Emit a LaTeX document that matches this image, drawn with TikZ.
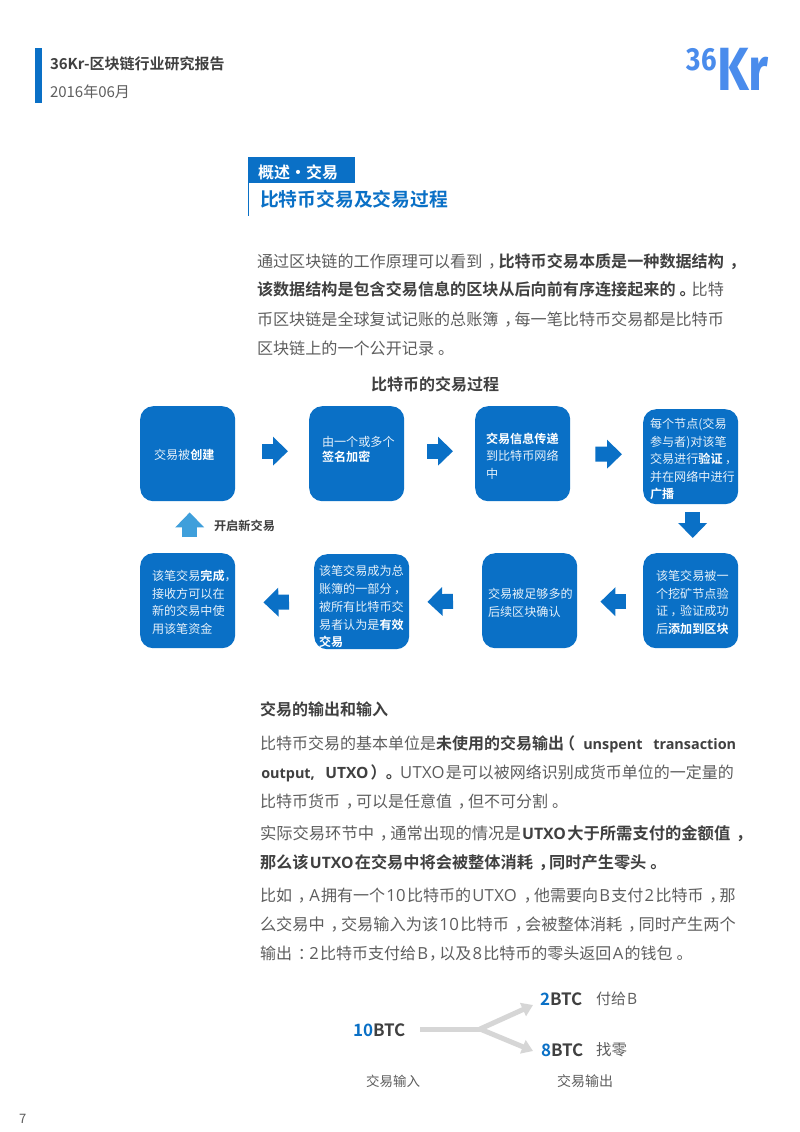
\documentclass[tikz,border=0pt]{standalone}
\usepackage{fontspec}
\usetikzlibrary{arrows.meta}
\setmainfont{Noto Sans CJK SC}[BoldFont={Noto Sans CJK SC Bold}]
\newfontfamily\logofont{Fira Sans}
\newfontfamily\latfont{Open Sans}[Scale=1.04,LetterSpace=2]
\newfontfamily\latbold{Open Sans}[Scale=0.97]
\newfontfamily\latsmall{Open Sans}[Scale=0.9]
\definecolor{kblue}{HTML}{0A70C6}
\definecolor{ktext}{HTML}{5E5E5E}
\definecolor{kdark}{HTML}{404040}
\definecolor{kboxtext}{HTML}{E6F1FA}
\definecolor{klight}{HTML}{3F9FDB}
\definecolor{kgray}{HTML}{D6D6D6}
\definecolor{klogo}{HTML}{4A8CEC}
\newcommand{\fs}[1]{\fontsize{#1bp}{#1bp}\selectfont}
% full-width punctuation set centred in its em box, as the reference prints it
\newcommand{\zc}{\kern.36em，\kern-.36em}
\newcommand{\zs}{\kern.2em，\kern-.2em}
\newcommand{\zd}{\kern.25em。\kern-.25em}
\newcommand{\zl}{\kern-.3em（\kern.3em}
\newcommand{\zr}{\kern.3em）\kern-.3em}
\newcommand{\zk}{\kern.36em：\kern-.36em}
\newcommand{\lt}[1]{\kern.08em{\latfont #1}\kern.08em}
\newcommand{\lb}[1]{\kern.08em{\latbold\bfseries #1}\kern.08em}
\newcommand{\ls}[1]{\kern.08em{\latsmall\bfseries #1}\kern.08em}
\newcommand{\bk}[1]{\textbf{\color{kdark}#1}}
\newcommand{\bw}[1]{\textbf{\color{white}#1}}
\tikzset{
 x=1bp,y=-1bp,
 txt/.style={anchor=base west,inner sep=0pt,outer sep=0pt,text=ktext,font=\fs{16},yshift=-0.8bp},
 boxlab/.style={anchor=base west,inner sep=0pt,outer sep=0pt,text=kboxtext,font=\fs{12.1},yshift=-0.6bp},
 stepbox/.style={fill=kblue,draw=none,rounded corners=13bp,minimum width=95bp,minimum height=95bp,inner sep=0pt,anchor=north west},
 blockarr/.style={draw=kblue,line width=15bp,-{Triangle[length=15bp,width=28bp]}},
 forkarr/.style={draw=kgray,line width=5bp},
}
\begin{document}
\begin{tikzpicture}
\useasboundingbox (0,0) rectangle (800,1132);
\fill[white] (0,0) rectangle (800,1132);
% header
\fill[kblue] (35,48) rectangle (42,103);
\node[txt,font=\fs{15}\bfseries,text=kdark] (h1) at (50,68.5) {36Kr-区块链行业研究报告};
\node[txt,font=\fs{15}] (h2) at (50,97) {2016年06月};
\node[anchor=base west,inner sep=0pt,text=klogo,font=\logofont\bfseries\fs{32}] (logo36) at (686.5,70) {\scalebox{0.86}[1]{36}};
\node[anchor=base west,inner sep=0pt,text=klogo,font=\logofont\bfseries\fs{61}] (logokr) at (717,90) {\scalebox{0.82}[1]{Kr}};
% section
\fill[kblue] (248,157) rectangle (355,183);
\draw[kblue,line width=1.2bp] (248.5,183) -- (248.5,216);
\node[txt,font=\fs{16}\bfseries,text=white] (sec) at (258,178) {概述・交易};
\node[txt,font=\fs{18.8}\bfseries,text=kblue] (title) at (260,205.5) {比特币交易及交易过程};
% body 1
\node[txt,font=\fs{16.1}] (b1) at (257,266.5) {通过区块链的工作原理可以看到\zc\bk{比特币交易本质是一种数据结构\zc}};
\node[txt,font=\fs{16.1}] (b2) at (257,295) {\bk{该数据结构是包含交易信息的区块从后向前有序连接起来的\zd}比特};
\node[txt,font=\fs{16.1}] (b3) at (257,324.5) {币区块链是全球复试记账的总账簿\zc 每一笔比特币交易都是比特币};
\node[txt,font=\fs{16.1}] (b4) at (257,353.5) {区块链上的一个公开记录\zd};
\node[txt,font=\fs{16}\bfseries,text=kdark] (ct) at (371,389.5) {比特币的交易过程};
% boxes
\node[stepbox] (box1) at (140,406) {};
\node[stepbox] (box2) at (309,406) {};
\node[stepbox] (box3) at (475,406) {};
\node[stepbox] (box4) at (643,409) {};
\node[stepbox] (box5) at (643,553) {};
\node[stepbox] (box6) at (482,553) {};
\node[stepbox] (box7) at (314,554) {};
\node[stepbox] (box8) at (140,553) {};
% box texts
\node[boxlab] (t1) at (154,459) {交易被\bw{创建}};
\node[boxlab] (t2a) at (322,446) {由一个或多个};
\node[boxlab] (t2b) at (322,461) {\bw{签名加密}};
\node[boxlab] (t3a) at (486,443) {\bw{交易信息传递}};
\node[boxlab] (t3b) at (486,460) {到比特币网络};
\node[boxlab] (t3c) at (486,478) {中};
\node[boxlab] (t4a) at (650,428) {每个节点(交易};
\node[boxlab] (t4b) at (650,446) {参与者)对该笔};
\node[boxlab] (t4c) at (650,463) {交易进行\bw{验证}\zs};
\node[boxlab] (t4d) at (650,481) {并在网络中进行};
\node[boxlab] (t4e) at (650,498) {\bw{广播}};
\node[boxlab] (t5a) at (656,580) {该笔交易被一};
\node[boxlab] (t5b) at (656,598) {个挖矿节点验};
\node[boxlab] (t5c) at (656,615) {证\zs 验证成功};
\node[boxlab] (t5d) at (656,633) {后\bw{添加到区块}};
\node[boxlab] (t6a) at (488,598) {交易被足够多的};
\node[boxlab] (t6b) at (488,616) {后续区块确认};
\node[boxlab] (t7a) at (319,575) {该笔交易成为总};
\node[boxlab] (t7b) at (319,593) {账簿的一部分\zs};
\node[boxlab] (t7c) at (319,611) {被所有比特币交};
\node[boxlab] (t7d) at (319,629) {易者认为是\bw{有效}};
\node[boxlab] (t7e) at (319,646) {\bw{交易}};
\node[boxlab] (t8a) at (152,580) {该笔交易\bw{完成}，};
\node[boxlab] (t8b) at (152,598) {接收方可以在};
\node[boxlab] (t8c) at (152,615) {新的交易中使};
\node[boxlab] (t8d) at (152,633) {用该笔资金};
% block arrows
\draw[blockarr,shorten <=27bp,shorten >=21bp] ([yshift=2.5bp]box1.east) -- ([yshift=2.5bp]box2.west);
\draw[blockarr,shorten <=23bp,shorten >=22bp] ([yshift=2.5bp]box2.east) -- ([yshift=2.5bp]box3.west);
\draw[blockarr,shorten <=25bp,shorten >=21bp] ([yshift=-0.5bp]box3.east) -- ([yshift=2.5bp]box4.west);
\draw[blockarr,shorten <=8bp,shorten >=15bp] ([xshift=2bp]box4.south) -- ([xshift=2bp]box5.north);
\draw[blockarr,shorten <=17bp,shorten >=23bp] ([yshift=-1bp]box5.west) -- ([yshift=-1bp]box6.east);
\draw[blockarr,shorten <=29bp,shorten >=18bp] ([yshift=0bp]box6.west) -- ([yshift=-0.5bp]box7.east);
\draw[blockarr,shorten <=25bp,shorten >=28bp] ([yshift=0bp]box7.west) -- ([yshift=-2bp]box8.east);
\draw[blockarr,draw=klight,shorten <=16bp,shorten >=11bp] ([xshift=2bp]box8.north) -- ([xshift=2bp]box1.south);
\node[txt,font=\fs{12.2}\bfseries,text=kdark] (newtx) at (214,529.5) {开启新交易};
% body 2
\node[txt,font=\fs{16}\bfseries,text=kdark] (s2) at (260,714.5) {交易的输出和输入};
\node[txt] (c1) at (260,748.5) {比特币交易的基本单位是\bk{未使用的交易输出\zl\kern2bp\ls{unspent}\kern8bp\ls{transaction}}};
\node[txt] (c2) at (260,777.5) {\bk{\ls{output,}\kern8bp\lb{UTXO}\kern-4bp\zr\zd}\kern1bp\lt{UTXO}是可以被网络识别成货币单位的一定量的};
\node[txt] (c3) at (260,806.5) {比特币货币\zc 可以是任意值\zc 但不可分割\zd};
\node[txt,font=\fs{16.3}] (c4) at (260,838.5) {实际交易环节中\zc 通常出现的情况是\bk{\lb{UTXO}大于所需支付的金额值\zc}};
\node[txt,font=\fs{16.2}\bfseries,text=kdark] (c5) at (260,867.5) {那么该\lb{UTXO}在交易中将会被整体消耗\zc 同时产生零头\zd};
\node[txt] (c6) at (260,900.5) {比如\zc\lt{A}拥有一个\lt{10}比特币的\lt{UTXO}\zc 他需要向\lt{B}支付\lt{2}比特币\zc 那};
\node[txt,font=\fs{16.2}] (c7) at (260,929.5) {么交易中\zc 交易输入为该\lt{10}比特币\zc 会被整体消耗\zc 同时产生两个};
\node[txt] (c8) at (260,958.5) {输出\zk\lt{2}比特币支付给\lt{B}\kern-6bp\zc 以及\lt{8}比特币的零头返回\lt{A}的钱包\zd};
% BTC diagram
\node[txt,font=\fs{17}\bfseries,text=kdark] (btcin) at (353,1035.5) {\textcolor{kblue}{10}BTC};
\node[txt,font=\fs{17}\bfseries,text=kdark] (btcb) at (540,1004.5) {\textcolor{kblue}{2}BTC};
\node[txt,font=\fs{17}\bfseries,text=kdark] (btcc) at (541,1055.5) {\textcolor{kblue}{8}BTC};
\node[txt,font=\fs{15}] (payb) at (596,1003.5) {付给\lt{B}};
\node[txt,font=\fs{15.5}] (chg) at (596,1054.5) {找零};
\node[txt,font=\fs{13.5}] (lin) at (366,1086) {交易输入};
\node[txt,font=\fs{14}] (lout) at (557,1086) {交易输出};
\coordinate (fork) at (480,1029);
\coordinate (tipb) at (533,1005);
\coordinate (tipc) at (533,1051);
\draw[forkarr,shorten <=15bp] (btcin.east |- fork) -- (fork);
\draw[forkarr,-{Triangle[length=11bp,width=14bp]}] (fork) -- (tipb);
\draw[forkarr,-{Triangle[length=11bp,width=14bp]}] (fork) -- (tipc);
\node[txt,font=\fs{13}] (pg) at (19,1123) {7};
\end{tikzpicture}
\end{document}
